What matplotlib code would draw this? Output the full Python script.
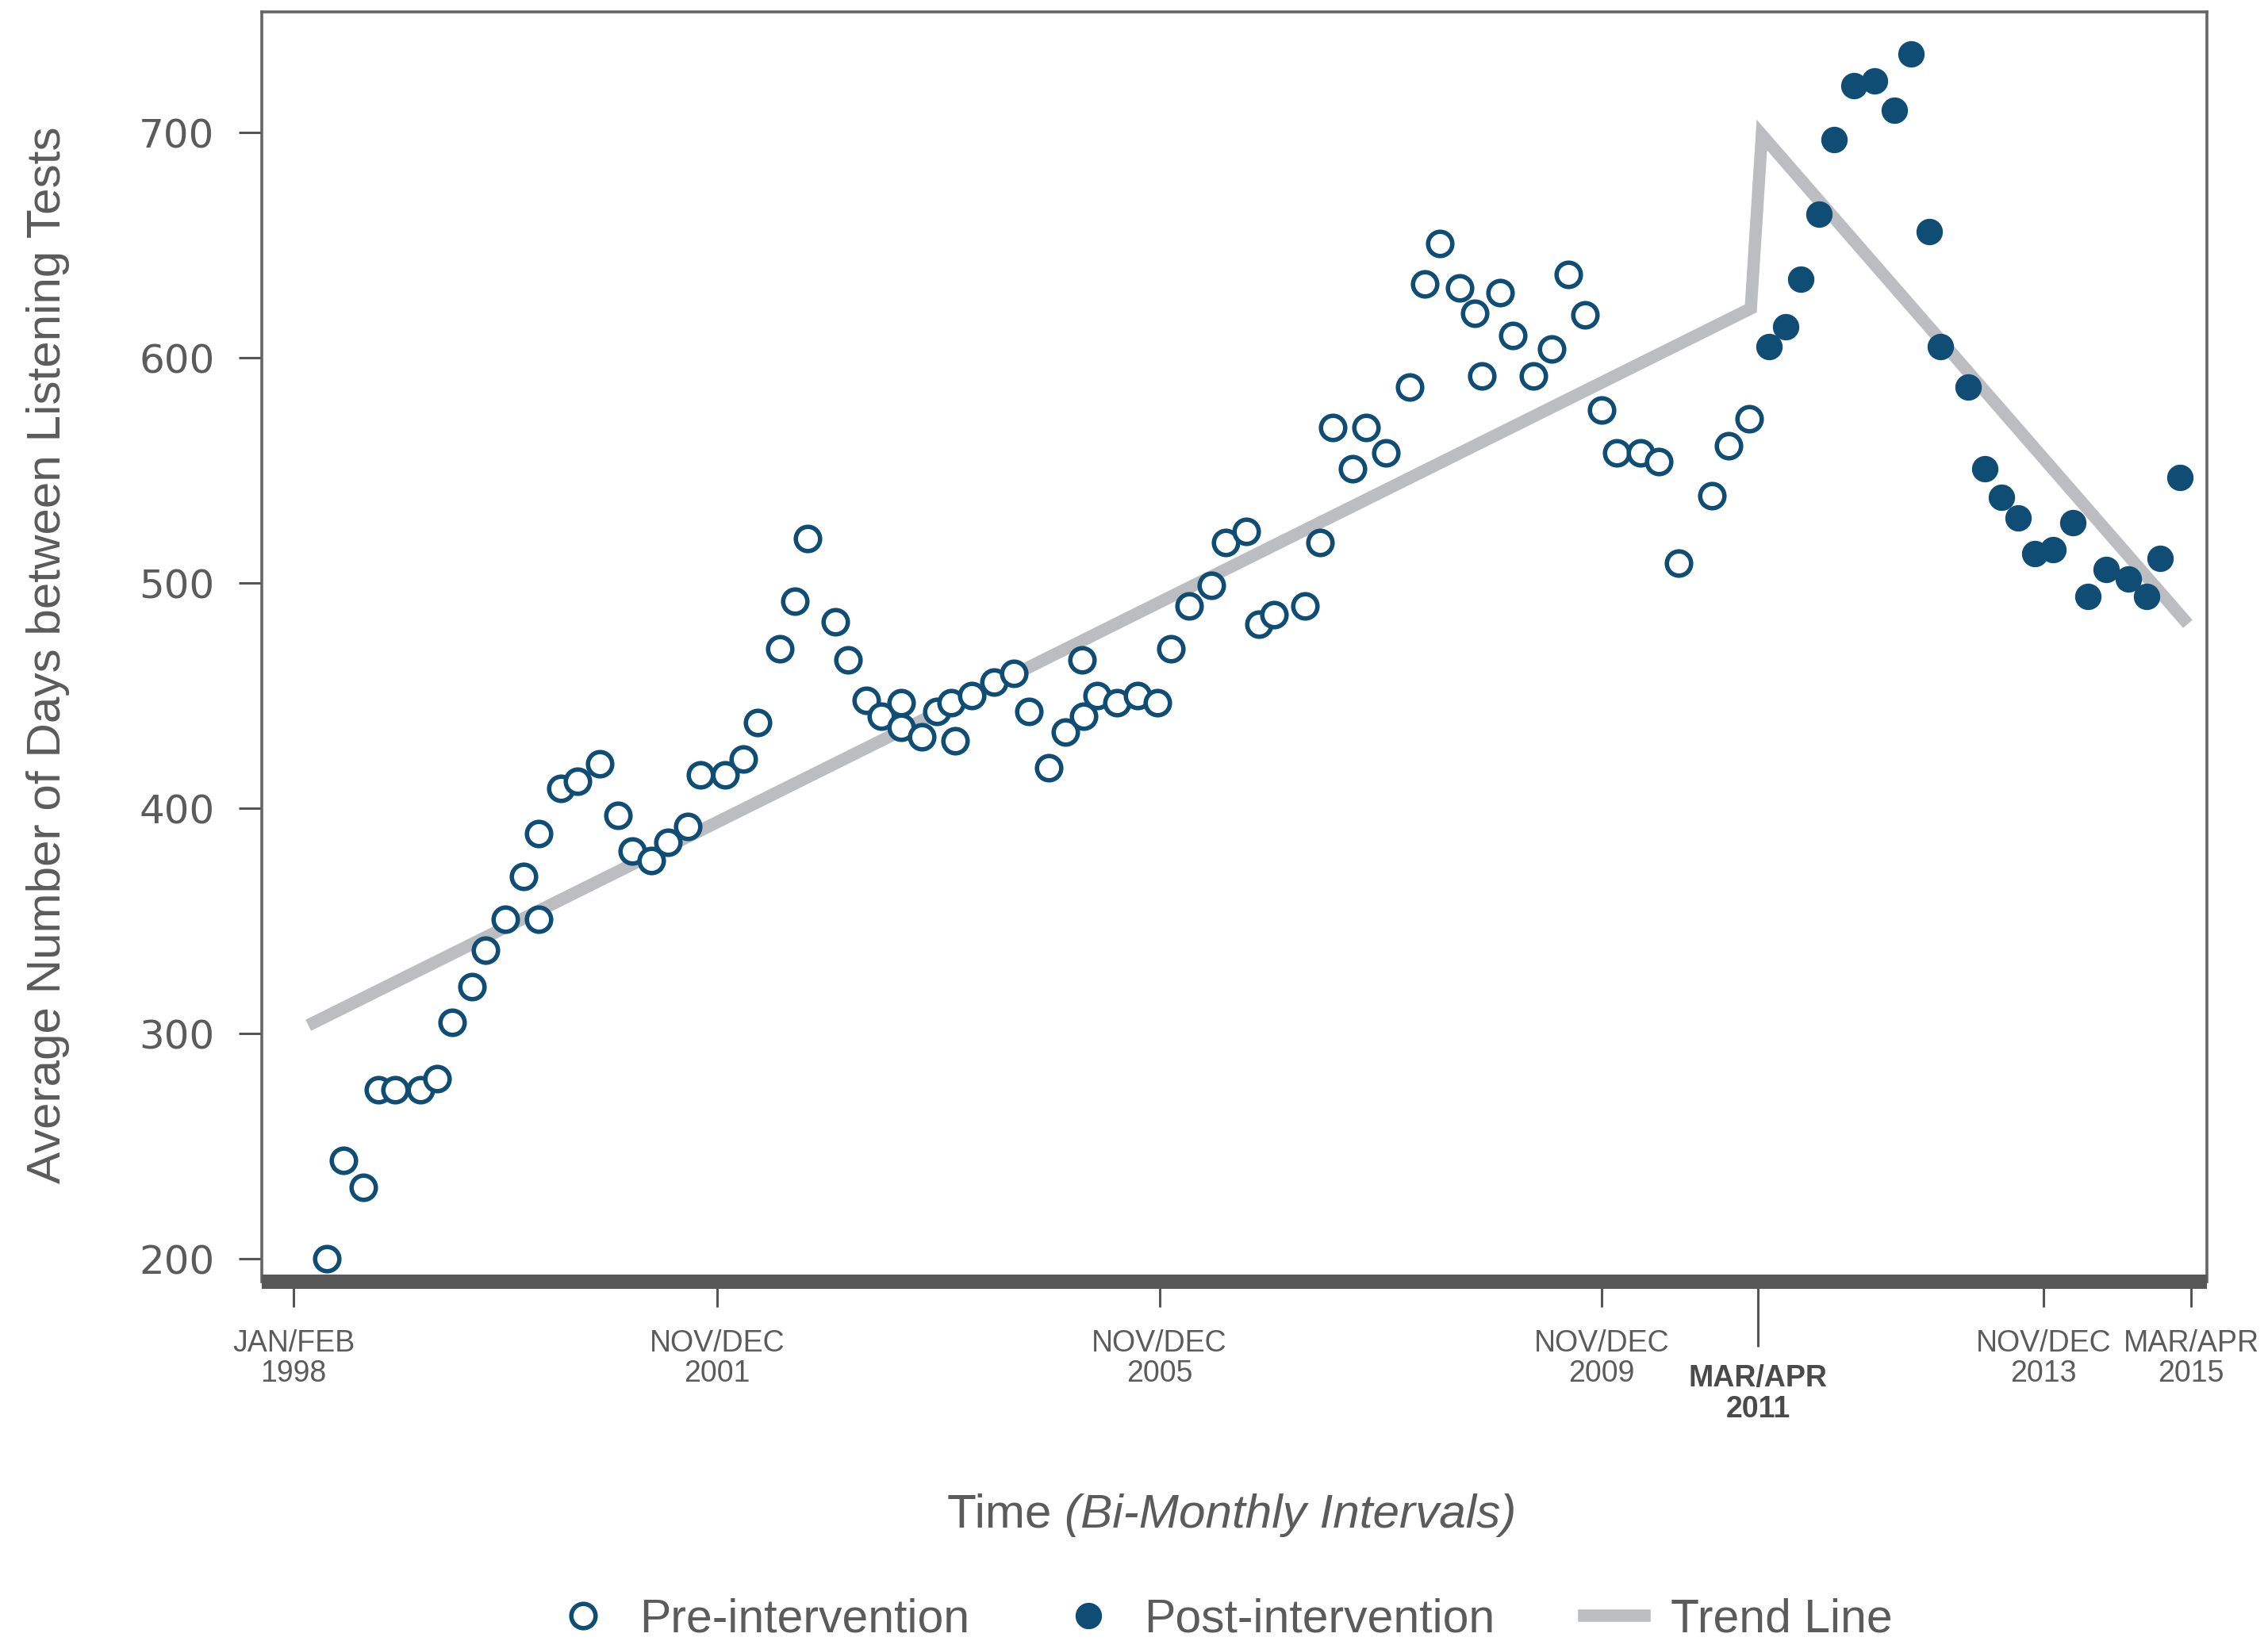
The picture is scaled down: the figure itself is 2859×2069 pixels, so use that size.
import matplotlib.pyplot as plt
from matplotlib.lines import Line2D

# x = bi-monthly period counted from JAN/FEB 1998 (= 0)
pre_x = [1.8, 2.7, 3.8, 4.6, 5.5, 6.9, 7.8, 8.6, 9.7, 10.4, 11.5, 12.5, 13.3, 13.3,
         14.5, 15.4, 16.6, 17.6, 18.4, 19.4, 20.3, 21.4, 22.1, 23.4, 24.4, 25.2,
         26.4, 27.2, 27.9, 29.4, 30.1, 31.1, 31.9, 33.0, 33.0, 34.1, 34.9, 35.7,
         35.9, 36.8, 38.0, 39.1, 39.9, 41.0, 41.9, 42.8, 42.9, 43.6, 44.7, 45.8,
         46.9, 47.6, 48.6, 49.8, 50.6, 51.7, 52.4, 53.2, 54.9, 55.7, 56.4, 57.5,
         58.2, 59.3, 60.6, 61.4, 62.2, 63.3, 64.1, 64.5, 65.5, 66.2, 67.3, 68.3,
         69.2, 70.1, 71.0, 71.8, 73.1, 74.1, 75.2, 77.0, 77.9, 79.0]
pre_y = [200, 244, 232, 275, 275, 275, 280, 305, 321, 337, 351, 370, 351, 389,
         409, 412, 420, 397, 381, 377, 385, 392, 415, 415, 422, 438,
         471, 492, 520, 483, 466, 448, 441, 447, 436, 432, 443, 447,
         430, 450, 456, 460, 443, 418, 434, 466, 441, 450, 447, 450,
         447, 471, 490, 499, 518, 523, 482, 486, 490, 518, 569, 551,
         569, 558, 587, 633, 651, 631, 620, 592, 629, 610, 592, 604,
         637, 619, 577, 558, 558, 554, 509, 539, 561, 573]

post_x = [80.1, 81.0, 81.8, 82.8, 83.6, 84.7, 85.8, 86.9, 87.8, 88.8, 89.4, 90.9,
          91.8, 92.7, 93.6, 94.5, 95.5, 96.6, 97.4, 98.4, 99.6, 100.6, 101.3, 102.4]
post_y = [605, 614, 635, 664, 697, 721, 723, 710, 735, 656, 605, 587,
          551, 538, 529, 513, 515, 527, 494, 506, 502, 494, 511, 547]

trend_x = [1.1, 79.1, 79.7, 102.6]
trend_y = [305, 622, 699, 484]

tick_pos = [0, 23, 47, 71, 95, 103]
tick_labels = ['JAN/FEB\n1998', 'NOV/DEC\n2001', 'NOV/DEC\n2005', 'NOV/DEC\n2009',
               'NOV/DEC\n2013', 'MAR/APR\n2015']
intervention_pos = 79.5
intervention_label = 'MAR/APR\n2011'
y_ticks = [200, 300, 400, 500, 600, 700]

blue = '#0f4d75'
grey_line = '#bcbdc1'
text_col = '#5b5b5b'
font = 'Liberation Sans'

fig = plt.figure(figsize=(14.295, 10.345), dpi=200)
ax = fig.add_axes([0.1154, 0.219, 0.9730 - 0.1154, 0.9927 - 0.219])

ax.plot(trend_x, trend_y, color=grey_line, lw=5.6, solid_joinstyle='miter', zorder=1)
ax.plot(pre_x, pre_y, 'o', ls='none', mfc='white', mec=blue, mew=2.0, ms=11, zorder=3)
ax.plot(post_x, post_y, 'o', ls='none', mfc=blue, mec=blue, mew=0, ms=12, zorder=3)

ax.set_xlim(-1.73, 103.85)
ax.set_ylim(190, 753.6)

ax.set_yticks(y_ticks)
ax.set_yticklabels([str(v) for v in y_ticks], fontsize=18, color=text_col, family='DejaVu Sans')
ax.tick_params(axis='y', length=10.4, width=1.1, color='#555555', pad=11)

ax.set_xticks(tick_pos)
ax.set_xticklabels(tick_labels, fontsize=13.5, color=text_col, family=font, linespacing=1.1)
ax.set_xticks([intervention_pos], minor=True)
ax.set_xticklabels([intervention_label], minor=True, fontsize=13.5, color='#4a4a4a',
                   family=font, fontweight='bold', linespacing=1.1)
ax.tick_params(axis='x', which='major', length=11.5, width=1.1, color='#555555', pad=10)
ax.tick_params(axis='x', which='minor', length=29.5, width=1.1, color='#555555', pad=8)

for side in ['left', 'right', 'top']:
    ax.spines[side].set_color('#666666')
    ax.spines[side].set_linewidth(1.3)
ax.spines['bottom'].set_color('#575757')
ax.spines['bottom'].set_linewidth(6.5)
ax.spines['bottom'].set_capstyle('butt')

fig.text(0.021, 0.601, 'Average Number of Days between Listening Tests', rotation=90,
         ha='center', va='center', fontsize=21.7, color=text_col, family=font)

t1 = fig.text(0.4177, 0.0767, 'Time ', ha='left', va='center', fontsize=21.7,
              color=text_col, family=font)
ax.annotate('(Bi-Monthly Intervals)', xy=(1, 0), xycoords=t1, va='bottom', ha='left',
            fontsize=21.7, color=text_col, family=font, style='italic')

handles = [
    Line2D([], [], marker='o', ls='none', mfc='white', mec=blue, mew=2.0, ms=11),
    Line2D([], [], marker='o', ls='none', mfc=blue, mec=blue, mew=0, ms=12),
    Line2D([], [], color=grey_line, lw=5.6),
]
fig.legend(handles, ['Pre-intervention', 'Post-intervention', 'Trend Line'],
           loc='center', bbox_to_anchor=(0.539, 0.013), ncol=3, frameon=False,
           handlelength=1.3, handletextpad=0.55, columnspacing=1.9,
           labelcolor=text_col, prop={'family': font, 'size': 21.2})

plt.savefig('out.png', dpi=200)
